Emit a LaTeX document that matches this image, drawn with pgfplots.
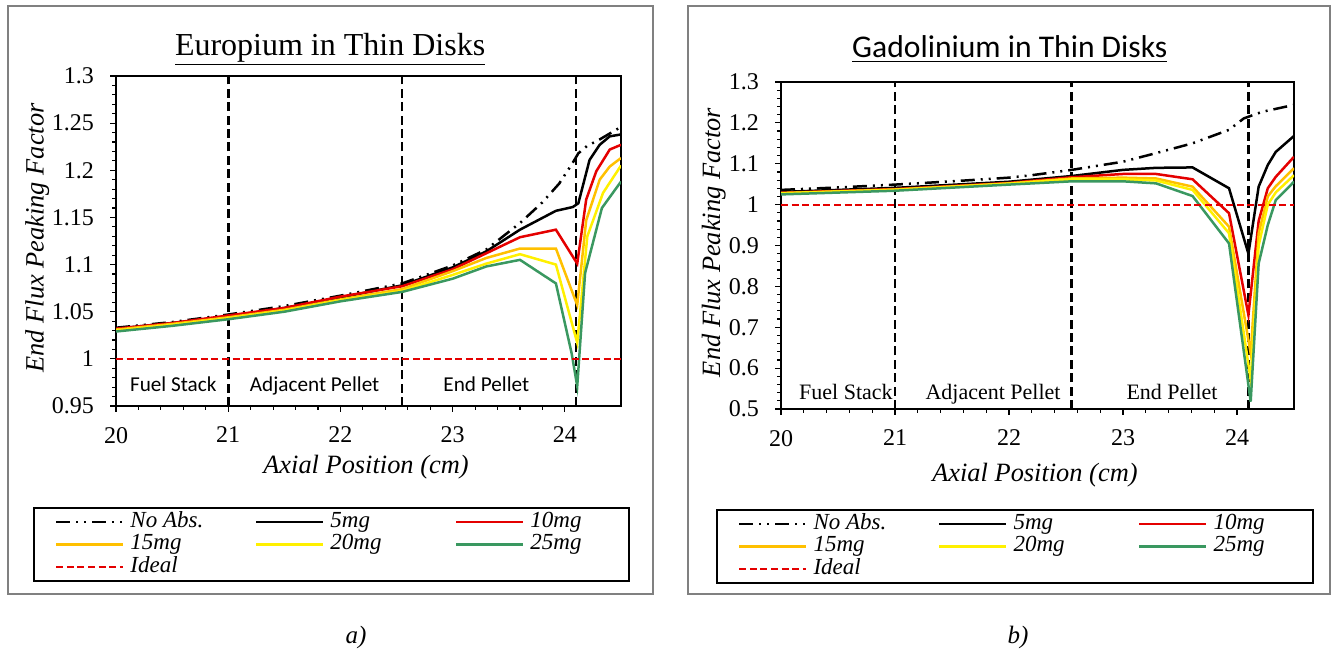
\documentclass[border=0pt]{standalone}
\usepackage{fontspec}
\setmainfont{Liberation Serif}
\newfontfamily\timesfont{Liberation Serif}
\newfontfamily\calibri{Carlito}
\usepackage{pgfplots}
\pgfplotsset{compat=1.18}

\definecolor{c10}{RGB}{228,0,0}
\definecolor{c15}{RGB}{255,192,0}
\definecolor{c20}{RGB}{255,240,0}
\definecolor{c25}{RGB}{58,152,96}
\definecolor{framegray}{RGB}{128,128,128}

\newcommand\legtext[1]{\makebox[36pt][l]{#1}}

\pgfplotsset{
  fluxaxis/.style={
    scale only axis,
    anchor=south west,
    xmin=20, xmax=24.5,
    xtick={20,21,22,23,24},
    minor x tick num=4,
    minor y tick num=4,
    tick align=outside,
    xtick pos=left, ytick pos=left,
    major tick length=3pt, minor tick length=1.8pt,
    tick style={black, line width=0.6pt},
    axis line style={black, line width=1pt},
    xticklabel style={font=\timesfont\fontsize{12}{12}\selectfont, yshift=-4pt},
    yticklabel style={font=\timesfont\fontsize{12}{12}\selectfont, xshift=-4.5pt},
    /pgf/number format/assume math mode=true,
    label style={font=\timesfont\fontsize{13.2}{14}\selectfont\itshape},
    xlabel={Axial Position (cm)},
    ylabel={End Flux Peaking Factor},
    legend columns=3,
    legend cell align=left,
    legend image code/.code={\draw[##1] (0pt,0pt) -- (33.5pt,0pt);},
    legend style={draw=black, line width=1pt, inner xsep=10.5pt, inner ysep=1.45pt,
      anchor=north west, font=\timesfont\fontsize{11.5}{12}\selectfont\itshape,
      nodes={inner xsep=3pt, inner ysep=0pt, text height=8.2pt, text depth=3pt},
      row sep=0pt, /tikz/every even column/.append style={column sep=23.25pt}},
  },
  noabs/.style={black, line width=1.25pt, dash pattern=on 7pt off 3pt on 1pt off 3pt on 1pt off 3pt},
  s5/.style={black, line width=1.25pt},
  s10/.style={c10, line width=1.25pt},
  s15/.style={c15, line width=1.25pt},
  s20/.style={c20, line width=1.25pt},
  s25/.style={c25, line width=1.25pt},
  ideal/.style={c10, line width=1pt, dash pattern=on 3.5pt off 1.8pt},
  bound/.style={black, line width=1.3pt, dash pattern=on 4.5pt off 2.2pt, forget plot},
}

\begin{document}
\begin{tikzpicture}[x=1pt,y=1pt]
\path[use as bounding box] (0,0) rectangle (666,328);
\draw[framegray, line width=0.75pt] (4,31) rectangle (326.5,325);
\draw[framegray, line width=0.75pt] (344,31) rectangle (665,325);
\node[font=\timesfont\fontsize{12.5}{13}\selectfont\itshape] at (178,9.5) {a)};
\node[font=\timesfont\fontsize{12.5}{13}\selectfont\itshape] at (509,9.5) {b)};

% Europium
\begin{axis}[fluxaxis,
  at={(58pt,125pt)}, width=252.5pt, height=165pt,
  ymin=0.95, ymax=1.3,
  ytick={0.95,1,1.05,1.1,1.15,1.2,1.25,1.3},
  title={\underline{Europium in Thin Disks}},
  title style={at={(axis description cs:0.424,1.027)}, anchor=base, font=\timesfont\fontsize{16}{18}\selectfont},
  xlabel style={at={(axis description cs:0.495,-0.185)}, anchor=center},
  ylabel style={at={(axis description cs:-0.156,0.509)}, anchor=center},
  legend style={at={(axis description cs:-0.1644,-0.306)}},
]
\addplot[bound] coordinates {(21,0.95) (21,1.3)};
\addplot[bound] coordinates {(22.55,0.95) (22.55,1.3)};
\addplot[bound] coordinates {(24.1,0.95) (24.1,1.3)};

\addplot[noabs] coordinates {(20.0,1.033) (20.5,1.039) (21.0,1.047) (21.5,1.056) (22.0,1.067) (22.55,1.080) (23.0,1.099) (23.3,1.116) (23.6,1.144) (23.8,1.166) (23.95,1.186) (24.06,1.206) (24.12,1.218) (24.2,1.226) (24.3,1.232) (24.4,1.239) (24.5,1.246)};
\addlegendentry{\legtext{No Abs.}}
\addplot[s5] coordinates {(20,1.032) (20.5,1.038) (21,1.045) (21.5,1.054) (22,1.065) (22.55,1.078) (23.0,1.097) (23.3,1.114) (23.6,1.137) (23.92,1.157) (24.07,1.161) (24.12,1.165) (24.22,1.211) (24.31,1.227) (24.4,1.236) (24.5,1.238)};
\addlegendentry{\legtext{5mg}}
\addplot[s10] coordinates {(20,1.032) (20.5,1.038) (21,1.046) (21.5,1.054) (22,1.066) (22.55,1.077) (23.0,1.095) (23.3,1.112) (23.6,1.129) (23.92,1.137) (24.11,1.101) (24.19,1.169) (24.28,1.199) (24.4,1.222) (24.5,1.227)};
\addlegendentry{\legtext{10mg}}
\addplot[s15] coordinates {(20,1.031) (20.5,1.037) (21,1.044) (21.5,1.052) (22,1.063) (22.55,1.074) (23.0,1.093) (23.3,1.107) (23.6,1.117) (23.92,1.117) (24.11,1.057) (24.19,1.147) (24.31,1.190) (24.4,1.204) (24.5,1.213)};
\addlegendentry{\legtext{15mg}}
\addplot[s20] coordinates {(20,1.030) (20.5,1.036) (21,1.043) (21.5,1.051) (22,1.062) (22.55,1.072) (23.0,1.089) (23.3,1.101) (23.6,1.111) (23.92,1.100) (24.11,1.017) (24.2,1.130) (24.34,1.176) (24.5,1.205)};
\addlegendentry{\legtext{20mg}}
\addplot[s25] coordinates {(20,1.029) (20.5,1.035) (21,1.042) (21.5,1.050) (22,1.061) (22.55,1.071) (23.0,1.085) (23.3,1.098) (23.6,1.105) (23.92,1.080) (24.06,1.006) (24.11,0.971) (24.18,1.091) (24.33,1.160) (24.5,1.188)};
\addlegendentry{\legtext{25mg}}
\addplot[ideal] coordinates {(20,1) (24.5,1)};
\addlegendentry{\legtext{Ideal}}

\node[font=\calibri\fontsize{10.6}{12}\selectfont, anchor=base] at (axis cs:20.51,0.965) {Fuel Stack};
\node[font=\calibri\fontsize{10.6}{12}\selectfont, anchor=base] at (axis cs:21.77,0.965) {Adjacent Pellet};
\node[font=\calibri\fontsize{10.6}{12}\selectfont, anchor=base] at (axis cs:23.30,0.965) {End Pellet};
\end{axis}

% Gadolinium
\begin{axis}[fluxaxis,
  at={(390.5pt,123.5pt)}, width=256.5pt, height=163.5pt,
  ymin=0.5, ymax=1.3,
  ytick={0.5,0.6,0.7,0.8,0.9,1,1.1,1.2,1.3},
  title={\underline{Gadolinium in Thin Disks}},
  title style={at={(axis description cs:0.446,1.037)}, anchor=base, font=\calibri\fontsize{15.8}{18}\selectfont},
  xlabel style={at={(axis description cs:0.495,-0.202)}, anchor=center},
  ylabel style={at={(axis description cs:-0.131,0.509)}, anchor=center},
  legend style={at={(axis description cs:-0.1267,-0.3058)}},
]
\addplot[bound] coordinates {(21,0.5) (21,1.3)};
\addplot[bound] coordinates {(22.55,0.5) (22.55,1.3)};
\addplot[bound] coordinates {(24.1,0.5) (24.1,1.3)};

\addplot[noabs] coordinates {(20.0,1.036) (20.5,1.042) (21.0,1.049) (21.5,1.057) (22.0,1.066) (22.2,1.072) (22.55,1.085) (23.0,1.105) (23.29,1.126) (23.61,1.150) (23.93,1.183) (24.06,1.211) (24.22,1.227) (24.5,1.244)};
\addlegendentry{\legtext{No Abs.}}
\addplot[s5] coordinates {(20.0,1.031) (21.0,1.041) (22.0,1.056) (22.55,1.070) (23.0,1.085) (23.29,1.090) (23.61,1.091) (23.93,1.040) (24.1,0.880) (24.19,1.044) (24.27,1.097) (24.34,1.129) (24.5,1.168)};
\addlegendentry{\legtext{5mg}}
\addplot[s10] coordinates {(20.0,1.029) (21.0,1.038) (22.0,1.053) (22.55,1.067) (23.0,1.075) (23.29,1.075) (23.61,1.062) (23.93,0.979) (24.1,0.730) (24.19,0.960) (24.27,1.040) (24.34,1.068) (24.5,1.117)};
\addlegendentry{\legtext{10mg}}
\addplot[s15] coordinates {(20.0,1.028) (21.0,1.037) (22.0,1.052) (22.55,1.064) (23.0,1.066) (23.29,1.064) (23.61,1.044) (23.93,0.946) (24.12,0.636) (24.19,0.930) (24.27,1.020) (24.34,1.045) (24.5,1.089)};
\addlegendentry{\legtext{15mg}}
\addplot[s20] coordinates {(20.0,1.028) (21.0,1.036) (22.0,1.051) (22.55,1.062) (23.0,1.062) (23.29,1.059) (23.61,1.036) (23.93,0.930) (24.12,0.571) (24.19,0.900) (24.27,1.000) (24.34,1.030) (24.5,1.072)};
\addlegendentry{\legtext{20mg}}
\addplot[s25] coordinates {(20.0,1.025) (21.0,1.034) (22.0,1.049) (22.55,1.057) (23.0,1.057) (23.29,1.052) (23.61,1.021) (23.93,0.905) (24.12,0.518) (24.19,0.856) (24.27,0.950) (24.34,1.011) (24.5,1.056)};
\addlegendentry{\legtext{25mg}}
\addplot[ideal] coordinates {(20,1) (24.5,1)};
\addlegendentry{\legtext{Ideal}}

\node[font=\timesfont\fontsize{11}{12}\selectfont, anchor=base] at (axis cs:20.57,0.524) {Fuel Stack};
\node[font=\timesfont\fontsize{11}{12}\selectfont, anchor=base] at (axis cs:21.86,0.524) {Adjacent Pellet};
\node[font=\timesfont\fontsize{11}{12}\selectfont, anchor=base] at (axis cs:23.43,0.524) {End Pellet};
\end{axis}
\end{tikzpicture}
\end{document}
